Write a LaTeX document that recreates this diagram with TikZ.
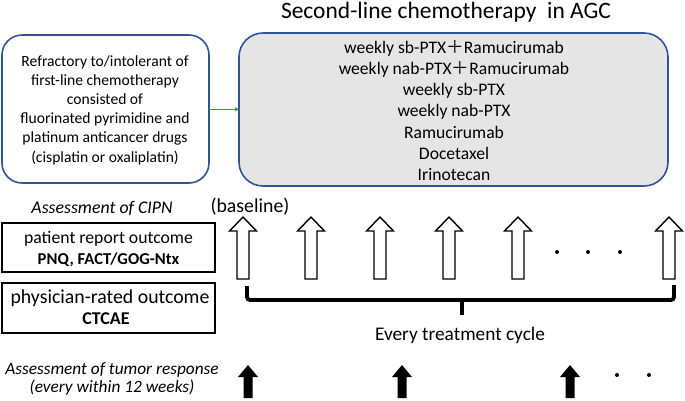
\documentclass[tikz,border=0pt]{standalone}
\usepackage{fontspec}
\usetikzlibrary{arrows.meta}
\setmainfont{Carlito}
\newfontfamily\cjk{Noto Sans CJK JP}
\definecolor{boxblue}{HTML}{2F5597}
\definecolor{arrblue}{HTML}{4472C4}
\begin{document}
\begin{tikzpicture}[x=1pt,y=-1pt,
  blkbox/.style={draw=black, line width=1.3pt},
  openarr/.style={draw=black, line width=1.4pt, fill=white, line join=miter},
  dot/.style={circle, fill=black, inner sep=0pt, minimum size=4pt}]
\useasboundingbox (0,0) rectangle (685,400);
% title
\node (title) at (446,12.5) {\fontsize{23.5}{26}\selectfont Second-line chemotherapy\ \ in AGC};
% left box
\draw[draw=boxblue, line width=1.6pt, rounded corners=20pt] (2,35) rectangle (209,183);
\node[align=center, font=\fontsize{15.6}{19.2}\selectfont] (ltext) at (105,110)
 {Refractory to/intolerant of\\first-line chemotherapy\\consisted of\\fluorinated pyrimidine and\\platinum anticancer drugs\\(cisplatin or oxaliplatin)};
% right box
\draw[draw=boxblue, fill=black!10, line width=1.6pt, rounded corners=24pt] (239,33) rectangle (668,186);
\node[align=center, font=\fontsize{17.6}{21.2}\selectfont] (rtext) at (454,110.5)
 {weekly sb-PTX{\cjk ＋}Ramucirumab\\weekly nab-PTX{\cjk ＋}Ramucirumab\\weekly sb-PTX\\weekly nab-PTX\\Ramucirumab\\Docetaxel\\Irinotecan};
\coordinate (lb) at (209,109.3);
\coordinate (rb) at (239,109.3);
\draw[draw=arrblue, line width=0.9pt, -{Stealth[length=4.5pt,width=4.5pt]}] (lb) -- (rb);
% CIPN
\node[font=\fontsize{17.8}{20}\selectfont\itshape] (cipn) at (102,208) {Assessment of CIPN};
\draw[blkbox] (2,223) rectangle (215,272);
\node[font=\fontsize{17.7}{20}\selectfont] (pro) at (108.5,239) {patient report outcome};
\node[font=\fontsize{16.6}{20}\selectfont\bfseries] (pnq) at (108.5,260) {PNQ, FACT/GOG-Ntx};
\draw[blkbox] (2,283) rectangle (215,333);
\node[font=\fontsize{19.8}{20}\selectfont] (phy) at (110,298.5) {physician-rated outcome};
\node[font=\fontsize{18}{20}\selectfont\bfseries] (ctc) at (106,318.5) {CTCAE};
\node[font=\fontsize{19.8}{22}\selectfont] (base) at (250,207) {(baseline)};
% open arrows
\foreach \cx in {243,311,380,449,518,669}{
  \draw[openarr] (\cx,217) -- (\cx+13.5,231) -- (\cx+6,231) -- (\cx+6,279) -- (\cx-6,279) -- (\cx-6,231) -- (\cx-13.5,231) -- cycle;
}
\foreach \dx in {557,588,620}{ \node[dot] at (\dx,252) {}; }
% bracket
\draw[line width=3.8pt, rounded corners=3pt] (247,286) -- (247,300) -- (674,300) -- (674,285);
\draw[line width=4.5pt] (462,300) -- (462,315);
\node[font=\fontsize{19.3}{22}\selectfont] (cycle) at (460,335) {Every treatment cycle};
% tumor response
\node[align=center, font=\fontsize{17.3}{18.5}\selectfont\itshape] (tumor) at (112,379) {Assessment of tumor response\\(every within 12 weeks)};
\foreach \cx in {248,402,570}{
  \fill (\cx,365) -- (\cx+10,377) -- (\cx+4.5,377) -- (\cx+4.5,398) -- (\cx-4.5,398) -- (\cx-4.5,377) -- (\cx-10,377) -- cycle;
}
\foreach \dx in {617,649}{ \node[dot] at (\dx,375) {}; }
\end{tikzpicture}
\end{document}
